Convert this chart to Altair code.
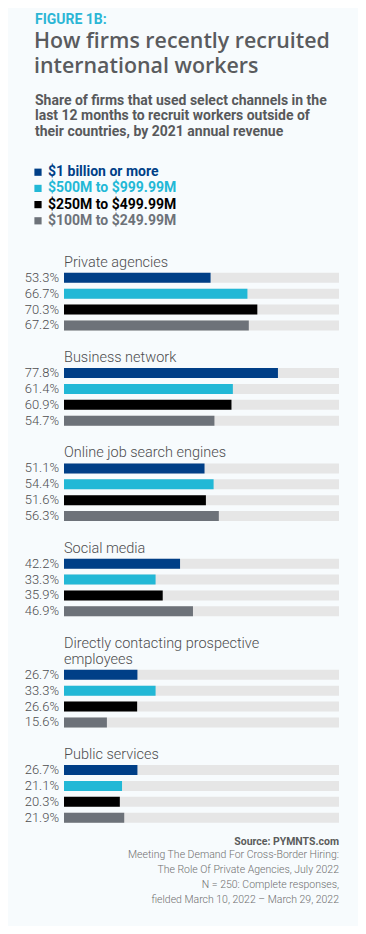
import textwrap
import altair as alt
import pandas as pd

# ---------------- data ----------------
channels = [
    "Private agencies",
    "Business network",
    "Online job search engines",
    "Social media",
    "Directly contacting prospective employees",
    "Public services",
]
series = [
    "$1 billion or more",
    "$500M to $999.99M",
    "$250M to $499.99M",
    "$100M to $249.99M",
]
colors = ["#003f87", "#22b8d6", "#000000", "#6d7279"]

v_1b = [53.3, 77.8, 51.1, 42.2, 26.7, 26.7]
v_500m = [66.7, 61.4, 54.4, 33.3, 33.3, 21.1]
v_250m = [70.3, 60.9, 51.6, 35.9, 26.6, 20.3]
v_100m = [67.2, 54.7, 56.3, 46.9, 15.6, 21.9]
values = [v_1b, v_500m, v_250m, v_100m]

fig_label = "FIGURE 1B:"
title_lines = ["How firms recently recruited", "international workers"]
subtitle_lines = [
    "Share of firms that used select channels in the",
    "last 12 months to recruit workers outside of",
    "their countries, by 2021 annual revenue",
]
source_head = "Source: PYMNTS.com"
source_lines = [
    "Meeting The Demand For Cross-Border Hiring:",
    "The Role Of Private Agencies, July 2022",
    "N = 250: Complete responses,",
    "fielded March 10, 2022 \u2013 March 29, 2022",
]

# ------------- tables built from the arrays -------------
title_rows, bar_rows = [], []
row = 0
for ci, ch in enumerate(channels):
    for line in textwrap.wrap(ch, 32):
        title_rows.append({"row": row, "line": line, "zero": 0})
        row += 1
    for si, s in enumerate(series):
        bar_rows.append({"row": row, "channel": ch, "series": s,
                         "value": values[si][ci], "zero": 0, "full": 100})
        row += 1
    row += 1
n_rows = row - 1

LEGEND_TOP = -5.65
legend_rows = [{"series": s, "row": LEGEND_TOP + i * 1.02} for i, s in enumerate(series)]

bars_df = pd.DataFrame(bar_rows)
titles_df = pd.DataFrame(title_rows)
legend_df = pd.DataFrame(legend_rows)
one = pd.DataFrame({"k": [0]})

ROW_PX = 15.88
W = 275
H = n_rows * ROW_PX

xs = alt.Scale(domain=[0, 100], nice=False, zero=False)
ys = alt.Scale(domain=[-0.5, n_rows - 0.5], reverse=True, nice=False, zero=False)
cs = alt.Scale(domain=series, range=colors)

X0 = alt.X("zero:Q", scale=xs, axis=None)
Y = alt.Y("row:Q", scale=ys, axis=None)
C = alt.Color("series:N", scale=cs, legend=None)

BODY_FONT = "Roboto"
TEXT_GREY = "#58595b"

track = alt.Chart(bars_df).mark_rule(strokeWidth=10, strokeCap="butt", color="#e6e6e6").encode(
    x=X0, x2="full:Q", y=Y,
)
bars = alt.Chart(bars_df).mark_rule(strokeWidth=10, strokeCap="butt").encode(
    x=X0, x2="value:Q", y=Y, color=C,
)
labels = alt.Chart(bars_df).transform_calculate(
    label="format(datum.value, '.1f') + '%'"
).mark_text(
    align="right", baseline="middle", dx=-5, fontSize=13, font=BODY_FONT,
    fontWeight=300, color="#4d4d4f",
).encode(x=X0, y=Y, text="label:N")

group_titles = alt.Chart(titles_df).mark_text(
    align="left", baseline="middle", fontSize=14.5, font=BODY_FONT, fontWeight=300,
    color="#4d4d4f", dy=1,
).encode(x=X0, y=Y, text="line:N")

leg_sq = alt.Chart(legend_df).mark_square(size=52, opacity=1).encode(
    x=alt.value(-26), y=Y, color=C
)
leg_txt = alt.Chart(legend_df).mark_text(
    align="left", baseline="middle", fontSize=14, font=BODY_FONT, fontWeight="bold"
).encode(x=alt.value(-16), y=Y, text="series:N", color=C)

fig_txt = alt.Chart(one).mark_text(
    align="left", baseline="alphabetic", fontSize=14, font=BODY_FONT, fontWeight="bold",
    color="#2bb6d5",
).encode(x=alt.value(-29), y=alt.value(-230), text=alt.value(fig_label))

title_layers = [
    alt.Chart(one).mark_text(
        align="left", baseline="alphabetic", fontSize=21.4, font="Open Sans", fontWeight=600,
        color="#5a5b5e",
    ).encode(x=alt.value(-30), y=alt.value(-206 + 25.5 * i), text=alt.value(t))
    for i, t in enumerate(title_lines)
]

sub_layers = [
    alt.Chart(one).mark_text(
        align="left", baseline="alphabetic", fontSize=14, font=BODY_FONT, fontWeight="bold",
        color=TEXT_GREY,
    ).encode(x=alt.value(-29), y=alt.value(-149 + 15.5 * i), text=alt.value(t))
    for i, t in enumerate(subtitle_lines)
]

src_head = alt.Chart(one).mark_text(
    align="right", baseline="alphabetic", fontSize=10.5, font=BODY_FONT,
    fontWeight="bold", color="#5b5b5b",
).encode(x=alt.value(W), y=alt.value(591), text=alt.value(source_head))

src_layers = [
    alt.Chart(one).mark_text(
        align="right", baseline="alphabetic", fontSize=10.5, font=BODY_FONT,
        fontWeight=300, color="#6f6f6f",
    ).encode(x=alt.value(W), y=alt.value(604 + 15 * i), text=alt.value(t))
    for i, t in enumerate(source_lines)
]

chart = alt.layer(
    track, bars, labels, group_titles, leg_sq, leg_txt,
    fig_txt, *title_layers, *sub_layers, src_head, *src_layers,
).properties(
    width=W,
    height=H,
    autosize=alt.AutoSizeParams(type="none"),
    padding={"left": 56, "top": 246, "right": 19, "bottom": 918 - 246 - round(H)},
    background="#f7fbfd",
).configure_view(stroke=None)

chart.save("out.html", embed_options={"renderer": "svg", "actions": False})
